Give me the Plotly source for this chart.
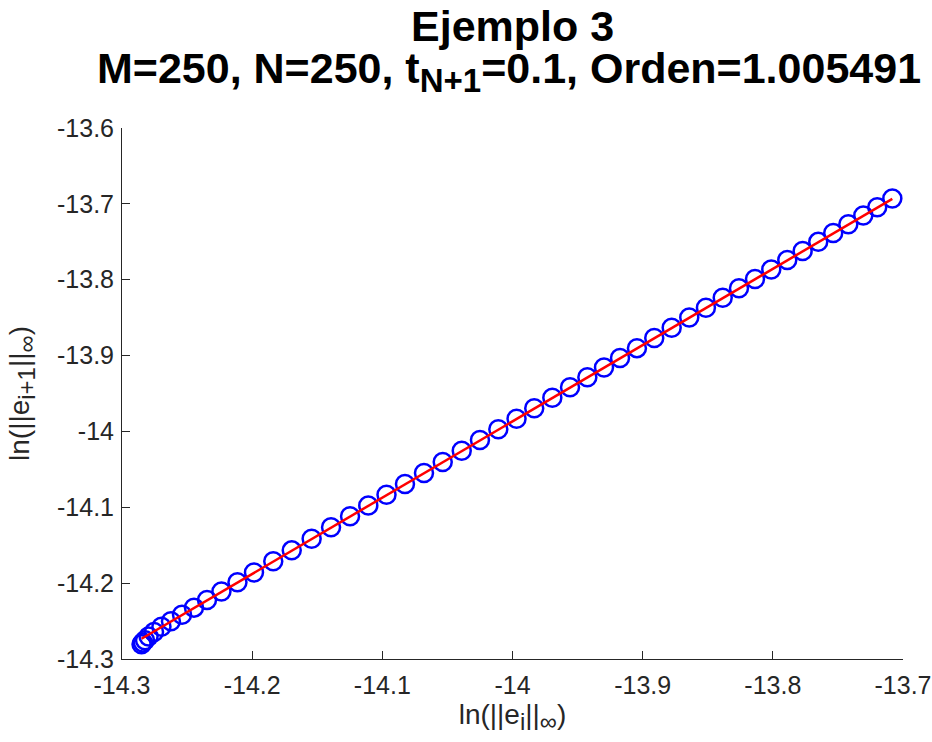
import numpy as np
import plotly.graph_objects as go

# ln of the max-norm error at step i and at step i+1
ln_err_i = [
    -14.2850, -14.2840, -14.2823, -14.2796, -14.2754, -14.2697, -14.2624, -14.2539,
    -14.2447, -14.2347, -14.2236, -14.2113, -14.1986, -14.1838, -14.1696, -14.1543,
    -14.1394, -14.1248, -14.1108, -14.0968, -14.0826, -14.0680, -14.0536, -14.0390,
    -14.0250, -14.0109, -13.9969, -13.9833, -13.9694, -13.9558, -13.9425, -13.9297,
    -13.9174, -13.9044, -13.8911, -13.8777, -13.8642, -13.8514, -13.8385, -13.8260,
    -13.8137, -13.8012, -13.7889, -13.7771, -13.7651, -13.7536, -13.7420, -13.7305,
    -13.7198, -13.7082,
]
ln_err_next = [
    -14.2807, -14.2784, -14.2754, -14.2704, -14.2645, -14.2575, -14.2501, -14.2416,
    -14.2323, -14.2223, -14.2111, -14.1987, -14.1860, -14.1711, -14.1568, -14.1414,
    -14.1264, -14.1118, -14.0977, -14.0836, -14.0693, -14.0547, -14.0402, -14.0255,
    -14.0114, -13.9972, -13.9832, -13.9695, -13.9555, -13.9418, -13.9285, -13.9156,
    -13.9032, -13.8902, -13.8768, -13.8633, -13.8497, -13.8369, -13.8239, -13.8113,
    -13.7990, -13.7864, -13.7740, -13.7622, -13.7501, -13.7385, -13.7269, -13.7153,
    -13.7045, -13.6929,
]

# estimated order of convergence (slope of the fitted line)
orden = 1.005491

x_ticks = [-14.3, -14.2, -14.1, -14.0, -13.9, -13.8, -13.7]
x_tick_text = ["-14.3", "-14.2", "-14.1", "-14", "-13.9", "-13.8", "-13.7"]
y_ticks = [-14.3, -14.2, -14.1, -14.0, -13.9, -13.8, -13.7, -13.6]
y_tick_text = ["-14.3", "-14.2", "-14.1", "-14", "-13.9", "-13.8", "-13.7", "-13.6"]


def sub(s, px):
    return "<sub><span style='font-size:%dpx'>%s</span></sub>" % (px, s)


title_line1 = "Ejemplo 3"
title_line2 = "M=250, N=250, t" + sub("N+1", 33) + "=0.1, Orden=1.005491"
x_title = "ln(||e" + sub("i", 24) + "||" + sub("∞", 24) + ")"
y_title = "ln(||e" + sub("i+1", 24) + "||" + sub("∞", 24) + ")"

x = np.array(ln_err_i)
y = np.array(ln_err_next)
intercept = y.mean() - orden * x.mean()
fit_x = np.array([x.min(), x.max()])
fit_y = intercept + orden * fit_x

FONT = "Liberation Sans, Arial, Helvetica, sans-serif"
AX = "#262626"

fig = go.Figure()
fig.add_trace(go.Scatter(
    x=x, y=y, mode="markers",
    marker=dict(symbol="circle-open", size=18, color="#0000FF",
                line=dict(color="#0000FF", width=2.5)),
    showlegend=False, hoverinfo="skip",
))
fig.add_trace(go.Scatter(
    x=fit_x, y=fit_y, mode="lines",
    line=dict(color="#FF0000", width=2.5),
    showlegend=False, hoverinfo="skip",
))

fig.update_layout(
    width=932, height=742,
    margin=dict(l=122, r=29, t=128, b=83, autoexpand=False),
    paper_bgcolor="white", plot_bgcolor="white",
    font=dict(family=FONT, color=AX, size=25),
)

# two-line bold title centred over the axes
fig.add_annotation(
    text="<b>" + title_line1 + "</b>", xref="paper", yref="paper",
    x=0.5, y=1.192, xanchor="center", yanchor="middle", showarrow=False,
    font=dict(family=FONT, size=43, color="black"),
)
fig.add_annotation(
    text="<b>" + title_line2 + "</b>", xref="paper", yref="paper",
    x=0.495, y=1.106, xanchor="center", yanchor="middle", showarrow=False,
    font=dict(family=FONT, size=43, color="black"),
)

fig.update_xaxes(
    range=[-14.3, -13.7], tickvals=x_ticks, ticktext=x_tick_text,
    showgrid=False, zeroline=False, showline=True, linecolor=AX, linewidth=1,
    ticks="inside", ticklen=8, tickcolor=AX, tickwidth=1, mirror=False,
    tickfont=dict(size=25, color=AX), ticklabelstandoff=4, automargin=False,
    title=dict(text=x_title, font=dict(size=28, color=AX), standoff=6),
)
fig.update_yaxes(
    range=[-14.3, -13.6], tickvals=y_ticks, ticktext=y_tick_text,
    showgrid=False, zeroline=False, showline=True, linecolor=AX, linewidth=1,
    ticks="inside", ticklen=8, tickcolor=AX, tickwidth=1, mirror=False,
    tickfont=dict(size=25, color=AX), ticklabelstandoff=2, automargin=False,
    title=dict(text=y_title, font=dict(size=28, color=AX), standoff=19),
)

fig.write_html("out.html")
